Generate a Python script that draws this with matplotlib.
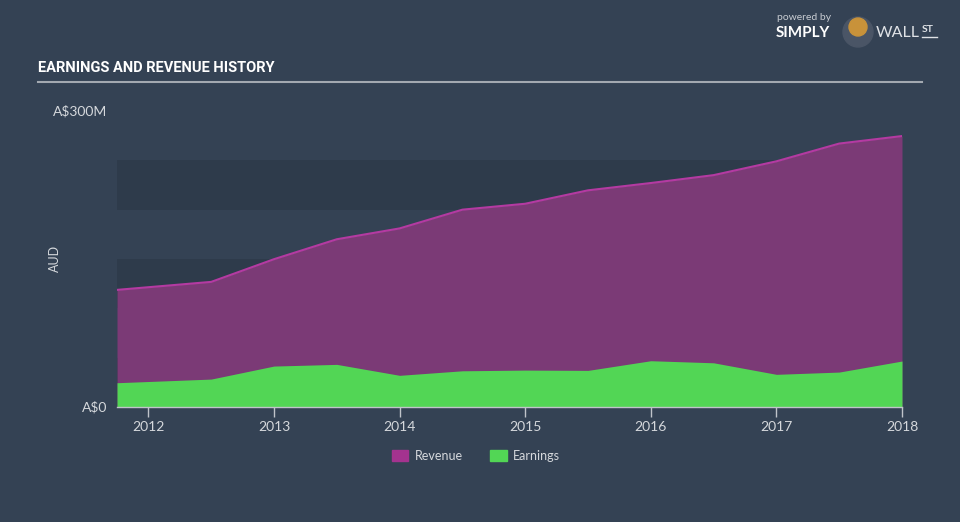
import matplotlib.pyplot as plt
from matplotlib.patches import Circle, Patch

# data (A$ millions)
dates = [2011.75, 2012.5, 2013.0, 2013.5, 2014.0, 2014.5, 2015.0,
         2015.5, 2016.0, 2016.5, 2017.0, 2017.5, 2018.0]
revenue = [118.7, 126.8, 149.8, 170.0, 181.0, 200.0, 206.0,
           219.6, 227.0, 235.0, 249.0, 267.0, 274.6]
earnings = [24.6, 28.3, 41.5, 43.2, 32.1, 36.7, 37.4,
            37.1, 46.9, 44.8, 33.1, 35.4, 46.6]
years = [2012, 2013, 2014, 2015, 2016, 2017, 2018]

bg = '#344254'
band = '#2e3b4b'
rev_fill = '#7b3a76'
rev_line = '#b43aa2'
earn_fill = '#52d655'
txt = '#d5d8dc'

plt.rcParams['font.family'] = ['Lato', 'DejaVu Sans']

fig = plt.figure(figsize=(9.6, 5.22), dpi=100)
fig.patch.set_facecolor(bg)
ax = fig.add_axes([117 / 960, 1 - 407 / 522, 785 / 960, 296 / 522])
ax.set_facecolor(bg)

# alternating bands
ax.axhspan(200, 250, color=band, lw=0)
ax.axhspan(100, 150, color=band, lw=0)
ax.axhspan(0, 50, color=band, lw=0)

ax.fill_between(dates, 0, revenue, color=rev_fill, lw=0)
ax.plot(dates, revenue, color=rev_line, lw=1.5)
ax.fill_between(dates, 0, earnings, color=earn_fill, lw=0)

ax.set_xlim(dates[0], dates[-1])
ax.set_ylim(0, 300)
for s in ['top', 'right', 'left']:
    ax.spines[s].set_visible(False)
ax.spines['bottom'].set_color('#c0c4ca')
ax.spines['bottom'].set_linewidth(1)

ax.set_xticks(years)
ax.set_xticklabels([str(y) for y in years])
ax.tick_params(axis='x', colors='#c0c4ca', length=7, width=1, labelcolor=txt,
               labelsize=10, pad=3)
ax.set_yticks([])

ax.text(-0.012, 0, 'A$0', transform=ax.get_yaxis_transform(), ha='right',
        va='center', color=txt, fontsize=10)
ax.text(-0.012, 300, 'A$300M', transform=ax.get_yaxis_transform(), ha='right',
        va='center', color=txt, fontsize=10)
fig.text(55 / 960, 1 - 258 / 522, 'AUD', rotation=90, ha='center', va='center',
         color=txt, fontsize=9)

# title and rule
fig.text(38 / 960, 1 - 68 / 522, 'EARNINGS AND REVENUE HISTORY', color='white',
         fontsize=10.5, fontweight='bold', va='center',
         family=['Roboto', 'DejaVu Sans'])
fig.add_artist(plt.Line2D([38 / 960, 922 / 960], [1 - 81.5 / 522, 1 - 81.5 / 522],
                          color='#a3a9b1', lw=1.5))

# logo
fig.text(777 / 960, 1 - 18 / 522, 'powered by', color='#c8ccd2', fontsize=7.5,
         va='center')
fig.text(776 / 960, 1 - 33 / 522, 'SIMPLY', color='white', fontsize=11,
         fontweight='bold', va='center')
fig.add_artist(Circle((858, 522 - 32), 15, transform=None,
                      color='#4a5566', zorder=3))
fig.add_artist(Circle((858, 522 - 27), 9, transform=None,
                      color='#c8923a', zorder=4))
fig.text(876 / 960, 1 - 33 / 522, 'WALL', color='#dfe2e6', fontsize=11.5, va='center')
fig.text(922 / 960, 1 - 30 / 522, 'ST', color='#dfe2e6', fontsize=7.5,
         fontweight='bold', va='center')
fig.add_artist(plt.Line2D([922 / 960, 937 / 960], [1 - 37 / 522, 1 - 37 / 522],
                          color='#dfe2e6', lw=1))

# legend
handles = [Patch(color='#a4338f', label='Revenue'),
           Patch(color=earn_fill, label='Earnings')]
fig.legend(handles=handles, loc='center', bbox_to_anchor=(476 / 960, 1 - 456 / 522),
           ncol=2, frameon=False, labelcolor=txt, fontsize=9,
           handlelength=1.3, handleheight=1.0, columnspacing=2.2, handletextpad=0.5)

fig.savefig('out.png', dpi=100, facecolor=bg)
